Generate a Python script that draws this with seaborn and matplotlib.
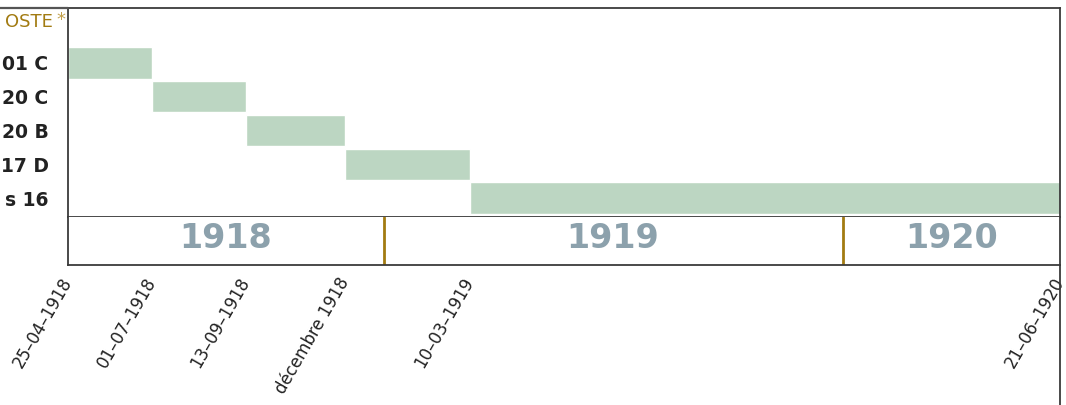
import pandas as pd
import matplotlib
matplotlib.use("Agg")
import matplotlib.pyplot as plt
import matplotlib.dates as mdates
from matplotlib.lines import Line2D
import seaborn as sns

# data
units = ["01 C", "20 C", "20 B", "17 D", "s 16"]
header = "OSTE"
starts = ["1918-04-25", "1918-07-01", "1918-09-13", "1918-12-01", "1919-03-10"]
ends = ["1918-07-01", "1918-09-13", "1918-12-01", "1919-03-10", "1920-06-21"]
tick_dates = ["1918-04-25", "1918-07-01", "1918-09-13", "1918-12-01", "1919-03-10", "1920-06-21"]
tick_labels = ["25–04–1918", "01–07–1918", "13–09–1918", "décembre 1918", "10–03–1919", "21–06–1920"]
years = ["1918", "1919", "1920"]

sns.set_theme(style="white")
plt.rcParams["font.family"] = ["DejaVu Sans"]

bar_color = "#bcd6c2"
gold = "#a27b12"
year_color = "#8ca1ac"
frame = "#3a3a3a"

df = pd.DataFrame({"unit": units, "start": pd.to_datetime(starts), "end": pd.to_datetime(ends)})
df["left"] = mdates.date2num(df["start"])
df["width"] = mdates.date2num(df["end"]) - df["left"]
df["row"] = range(1, len(units) + 1)

W, H = 1066, 405
fig = plt.figure(figsize=(W / 100, H / 100), dpi=100)
ax = fig.add_axes([68 / W, 1 - 217 / H, 992 / W, 209 / H])
axb = fig.add_axes([68 / W, 1 - 265 / H, 992 / W, 48 / H], sharex=ax)

ax.barh(df["row"], df["width"], left=df["left"], height=0.93,
        color=bar_color, edgecolor="white", linewidth=1)
xmin = mdates.date2num(pd.Timestamp(tick_dates[0]))
xmax = mdates.date2num(pd.Timestamp(tick_dates[-1]))
ax.set_xlim(xmin, xmax)
ax.set_ylim(5.56, -0.62)
ax.set_yticks(df["row"])
ax.set_yticklabels(units, fontsize=13.5, fontweight="bold", color="#222222")
ax.tick_params(axis="y", length=0, pad=14)
ax.tick_params(axis="x", length=0, labelbottom=False)
for s in ax.spines.values():
    s.set_color(frame)
    s.set_linewidth(1.3)

fig.text(53 / W, 1 - 22 / H, header, ha="right", va="center", fontsize=13, color=gold)
fig.text(56 / W, 1 - 20 / H, "*", ha="left", va="center", fontsize=13, color="#c2a04a")

# year band
axb.set_ylim(0, 1)
axb.set_yticks([])
year_starts = [pd.Timestamp(f"{y}-01-01") for y in years]
for i, y in enumerate(years):
    lo = max(mdates.date2num(year_starts[i]), xmin)
    hi = min(mdates.date2num(pd.Timestamp(f"{y}-12-31")), xmax)
    if i > 0:
        axb.axvline(mdates.date2num(year_starts[i]), color=gold, lw=2)
    axb.text((lo + hi) / 2, 0.55, y, ha="center", va="center", fontsize=24,
             fontweight="bold", color=year_color)
axb.set_xticks(mdates.date2num(pd.to_datetime(tick_dates)))
axb.set_xticklabels(tick_labels, rotation=60, ha="right", va="center",
                    rotation_mode="anchor", fontsize=12, color="#222222")
axb.tick_params(axis="x", length=0, pad=10)
axb.spines["top"].set_visible(False)
for s in ["left", "right", "bottom"]:
    axb.spines[s].set_color(frame)
    axb.spines[s].set_linewidth(1.3)

# frame pieces that run past the plot
fig.add_artist(Line2D([0, 68 / W], [1 - 8 / H, 1 - 8 / H], color="#555555", lw=1.6))
fig.add_artist(Line2D([1060 / W, 1060 / W], [0, 1 - 265 / H], color=frame, lw=1.3))

fig.savefig("out.png", dpi=100)
